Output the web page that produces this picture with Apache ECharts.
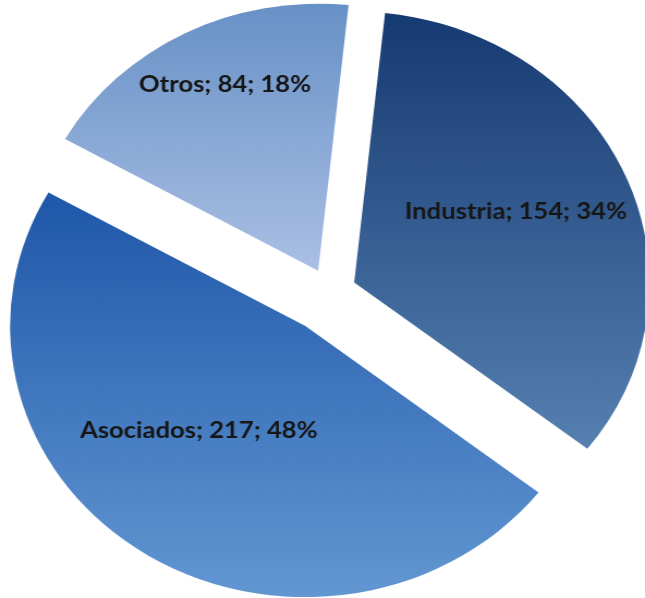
<!DOCTYPE html>
<html>
<head>
<meta charset="utf-8">
<script src="https://cdn.jsdelivr.net/npm/echarts@6/dist/echarts.min.js"></script>
<style>
  html, body { margin: 0; padding: 0; background: #fff; overflow: hidden; }
  /* the source picture is a round pie stretched sideways */
  #chart { width: 592px; height: 598px; transform: scaleX(1.0895); transform-origin: 0 0; }
</style>
</head>
<body>
<div id="chart"></div>
<script>
const categories = ['Industria', 'Asociados', 'Otros'];
const values = [154, 217, 84];

// per-slice look
const explode = [24, 41, 24];
const radii = [271, 271, 267];
const gradients = [
    ['#163a72', '#5580b0'],
    ['#1f57a9', '#6297d2'],
    ['#6791c6', '#aabfe4'],
];
const labelOffsets = [[21, -17], [-21, -11], [-23, -65]];

const baseCenter = [303, 292];
const firstAngle = 84;

const total = values.reduce((a, b) => a + b, 0);

const series = [];
let cum = 0;
values.forEach((v, i) => {
    const start = firstAngle - (cum / total) * 360;
    const end = start - (v / total) * 360;
    const mid = ((start + end) / 2) * Math.PI / 180;
    cum += v;
    const cx = baseCenter[0] + explode[i] * Math.cos(mid);
    const cy = baseCenter[1] - explode[i] * Math.sin(mid);
    series.push({
        type: 'pie',
        center: [cx, cy],
        radius: [0, radii[i]],
        startAngle: start,
        endAngle: end,
        silent: true,
        animation: false,
        data: [{ name: categories[i], value: v }],
        itemStyle: {
            color: new echarts.graphic.LinearGradient(0, 0, 0, 1, [
                { offset: 0, color: gradients[i][0] },
                { offset: 1, color: gradients[i][1] },
            ]),
        },
        label: {
            show: true,
            position: 'inside',
            offset: labelOffsets[i],
            formatter: (p) => p.name + '; ' + p.value + '; ' + Math.round(p.value / total * 100) + '%',
            color: '#161616',
            fontFamily: 'Lato',
            fontWeight: 'bold',
            fontSize: 23.5,
        },
        labelLine: { show: false },
    });
});

const myChart = echarts.init(document.getElementById('chart'));
myChart.setOption({
    backgroundColor: '#fff',
    animation: false,
    series: series,
});
</script>
</body>
</html>
